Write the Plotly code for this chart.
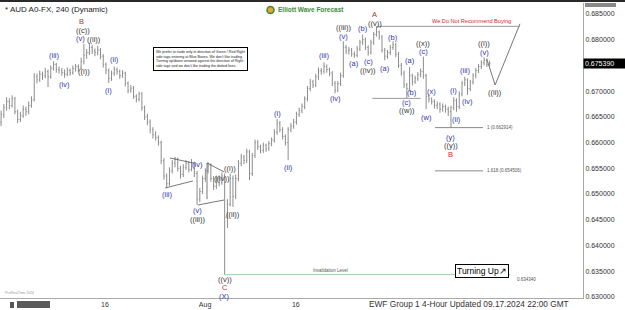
import plotly.graph_objects as go

# ---------------- data (8-hour bars) ----------------
opens = [0.6640,0.6655,0.6668,0.6680,0.6672,0.6685,0.6660,0.6645,0.6652,0.6665,
         0.6660,0.6672,0.6683,0.6728,0.6722,0.6733,0.6730,0.6738,0.6728,0.6745,
         0.6752,0.6742,0.6740,0.6736,0.6733,0.6740,0.6736,0.6744,0.6748,0.6745,
         0.6758,0.6770,0.6775,0.6785,0.6778,0.6775,0.6780,0.6768,0.6752,0.6740,
         0.6725,0.6735,0.6742,0.6738,0.6730,0.6735,0.6715,0.6702,0.6706,0.6690,
         0.6684,0.6695,0.6668,0.6650,0.6640,0.6625,0.6615,0.6610,0.6600,0.6565,
         0.6535,0.6520,0.6545,0.6560,0.6568,0.6550,0.6538,0.6552,0.6560,0.6548,
         0.6560,0.6540,0.6490,0.6505,0.6530,0.6545,0.6555,0.6530,0.6515,0.6530,
         0.6522,0.6535,0.6455,0.6480,0.6530,0.6495,0.6530,0.6560,0.6572,0.6565,
         0.6582,0.6540,0.6575,0.6600,0.6592,0.6585,0.6595,0.6588,0.6598,0.6605,
         0.6620,0.6638,0.6625,0.6612,0.6600,0.6625,0.6632,0.6640,0.6655,0.6662,
         0.6670,0.6685,0.6705,0.6718,0.6712,0.6728,0.6740,0.6738,0.6748,0.6742,
         0.6735,0.6715,0.6702,0.6715,0.6730,0.6785,0.6778,0.6780,0.6772,0.6770,
         0.6782,0.6795,0.6800,0.6785,0.6775,0.6795,0.6810,0.6815,0.6805,0.6780,
         0.6768,0.6775,0.6785,0.6790,0.6772,0.6750,0.6735,0.6712,0.6705,0.6730,
         0.6718,0.6725,0.6732,0.6738,0.6730,0.6690,0.6685,0.6680,0.6672,0.6675,
         0.6665,0.6670,0.6665,0.6660,0.6668,0.6682,0.6670,0.6695,0.6715,0.6722,
         0.6705,0.6718,0.6730,0.6740,0.6748,0.6755,0.6760,0.6752]
highs = [0.6662,0.6675,0.6688,0.6686,0.6692,0.6689,0.6664,0.6660,0.6672,0.6670,
         0.6680,0.6690,0.6735,0.6734,0.6740,0.6738,0.6745,0.6742,0.6750,0.6758,
         0.6755,0.6748,0.6745,0.6742,0.6746,0.6744,0.6750,0.6753,0.6752,0.6765,
         0.6792,0.6782,0.6794,0.6790,0.6783,0.6788,0.6784,0.6772,0.6756,0.6744,
         0.6740,0.6748,0.6746,0.6742,0.6741,0.6738,0.6719,0.6712,0.6710,0.6694,
         0.6699,0.6698,0.6672,0.6656,0.6645,0.6630,0.6622,0.6614,0.6604,0.6570,
         0.6540,0.6552,0.6566,0.6572,0.6571,0.6555,0.6558,0.6566,0.6564,0.6568,
         0.6563,0.6545,0.6512,0.6536,0.6550,0.6562,0.6560,0.6535,0.6536,0.6536,
         0.6542,0.6540,0.6490,0.6540,0.6536,0.6538,0.6566,0.6578,0.6576,0.6588,
         0.6586,0.6580,0.6606,0.6605,0.6596,0.6600,0.6598,0.6603,0.6610,0.6626,
         0.6646,0.6642,0.6630,0.6616,0.6630,0.6638,0.6646,0.6660,0.6668,0.6676,
         0.6690,0.6710,0.6724,0.6722,0.6734,0.6746,0.6745,0.6756,0.6752,0.6746,
         0.6739,0.6720,0.6720,0.6736,0.6797,0.6790,0.6786,0.6784,0.6777,0.6788,
         0.6800,0.6810,0.6804,0.6789,0.6800,0.6815,0.6826,0.6818,0.6809,0.6784,
         0.6780,0.6790,0.6797,0.6794,0.6776,0.6755,0.6740,0.6716,0.6747,0.6734,
         0.6730,0.6737,0.6744,0.6767,0.6734,0.6694,0.6688,0.6684,0.6680,0.6678,
         0.6676,0.6674,0.6670,0.6672,0.6688,0.6686,0.6700,0.6720,0.6728,0.6725,
         0.6722,0.6735,0.6745,0.6753,0.6760,0.6766,0.6764,0.6759]
lows = [0.6632,0.6648,0.6662,0.6665,0.6668,0.6655,0.6638,0.6640,0.6648,0.6652,
        0.6655,0.6668,0.6680,0.6715,0.6718,0.6722,0.6725,0.6708,0.6724,0.6740,
        0.6736,0.6734,0.6730,0.6726,0.6729,0.6730,0.6732,0.6738,0.6738,0.6741,
        0.6752,0.6763,0.6770,0.6772,0.6768,0.6770,0.6762,0.6746,0.6733,0.6716,
        0.6720,0.6730,0.6732,0.6724,0.6726,0.6709,0.6696,0.6697,0.6685,0.6678,
        0.6680,0.6662,0.6644,0.6634,0.6618,0.6608,0.6604,0.6594,0.6558,0.6528,
        0.6512,0.6516,0.6540,0.6552,0.6544,0.6530,0.6533,0.6547,0.6542,0.6544,
        0.6533,0.6479,0.6484,0.6500,0.6524,0.6540,0.6524,0.6508,0.6510,0.6515,
        0.6518,0.63434,0.6434,0.6476,0.6475,0.6490,0.6525,0.6554,0.6558,0.6560,
        0.6527,0.6535,0.6570,0.6586,0.6579,0.6580,0.6582,0.6584,0.6593,0.6600,
        0.6615,0.6620,0.6606,0.6594,0.6566,0.6620,0.6627,0.6635,0.6650,0.6657,
        0.6665,0.6680,0.6700,0.6706,0.6708,0.6722,0.6732,0.6734,0.6736,0.6729,
        0.6710,0.6696,0.6698,0.6710,0.6726,0.6772,0.6771,0.6767,0.6765,0.6766,
        0.6778,0.6790,0.6780,0.6769,0.6771,0.6790,0.6806,0.6800,0.6775,0.6760,
        0.6763,0.6770,0.6780,0.6766,0.6745,0.6730,0.6706,0.6686,0.6700,0.6711,
        0.6714,0.6720,0.6727,0.6724,0.6665,0.6678,0.6674,0.6666,0.6665,0.6658,
        0.6660,0.6658,0.6652,0.6629,0.6663,0.6660,0.6665,0.6690,0.6710,0.6693,
        0.6700,0.6713,0.6725,0.6735,0.6743,0.6750,0.6747,0.6748]
closes = [0.6655,0.6668,0.6680,0.6672,0.6685,0.6660,0.6645,0.6652,0.6665,0.6660,
          0.6672,0.6683,0.6728,0.6722,0.6733,0.6730,0.6738,0.6728,0.6745,0.6752,
          0.6742,0.6740,0.6736,0.6733,0.6740,0.6736,0.6744,0.6748,0.6745,0.6758,
          0.6770,0.6775,0.6785,0.6778,0.6775,0.6780,0.6768,0.6752,0.6740,0.6725,
          0.6735,0.6742,0.6738,0.6730,0.6735,0.6715,0.6702,0.6706,0.6690,0.6684,
          0.6695,0.6668,0.6650,0.6640,0.6625,0.6615,0.6610,0.6600,0.6565,0.6535,
          0.6520,0.6545,0.6560,0.6568,0.6550,0.6538,0.6552,0.6560,0.6548,0.6560,
          0.6540,0.6490,0.6505,0.6530,0.6545,0.6555,0.6530,0.6515,0.6530,0.6522,
          0.6535,0.6455,0.6480,0.6530,0.6495,0.6530,0.6560,0.6572,0.6565,0.6582,
          0.6540,0.6575,0.6600,0.6592,0.6585,0.6595,0.6588,0.6598,0.6605,0.6620,
          0.6638,0.6625,0.6612,0.6600,0.6625,0.6632,0.6640,0.6655,0.6662,0.6670,
          0.6685,0.6705,0.6718,0.6712,0.6728,0.6740,0.6738,0.6748,0.6742,0.6735,
          0.6715,0.6702,0.6715,0.6730,0.6785,0.6778,0.6780,0.6772,0.6770,0.6782,
          0.6795,0.6800,0.6785,0.6775,0.6795,0.6810,0.6815,0.6805,0.6780,0.6768,
          0.6775,0.6785,0.6790,0.6772,0.6750,0.6735,0.6712,0.6705,0.6730,0.6718,
          0.6725,0.6732,0.6738,0.6730,0.6690,0.6685,0.6680,0.6672,0.6675,0.6665,
          0.6670,0.6665,0.6660,0.6668,0.6682,0.6670,0.6695,0.6715,0.6722,0.6705,
          0.6718,0.6730,0.6740,0.6748,0.6755,0.6760,0.6752,0.67539]
bar_index = list(range(len(closes)))

x_tick_vals = [37.6, 73.9, 106.8]
x_tick_text = ["16", "Aug", "16"]
y_tick_vals = [0.630, 0.635, 0.640, 0.645, 0.650, 0.655, 0.660, 0.665, 0.670, 0.680, 0.685]
y_tick_text = ["%.6f" % v for v in y_tick_vals]

last_price = 0.675390
invalidation_level = 0.634340
fib_levels = [0.662914, 0.654506]
fib_ratios = ["1", "1.618"]
fib_span = [157.2, 174.6]
invalid_span = [81, 184.4]
a_level_bar = 136
a_level_end = 188
w_level_bar = 147
w_level_span = [134.5, 152]

# projected path (gray)
proj_x = [176, 179, 188]
proj_y = [0.6762, 0.6712, 0.6831]

# hand-drawn triangles / wedges
tri_x = [[59.4, 69.5], [61.2, 69.5], [74.6, 80.8], [71.3, 80.8], [74.6, 74.6]]
tri_y = [[0.65118, 0.65254], [0.65701, 0.65604], [0.65604, 0.65429],
         [0.64787, 0.64884], [0.65604, 0.64900]]

# wave labels: (bar, text, colour, anchor high/low, vertical shift px, horizontal shift px)
wave_labels = [
    (19, "(iii)", "b", "h", 6, 0), (23, "(iv)", "b", "l", -7, 0),
    (30, "((i))", "k", "l", -7, 0), (30, "(v)", "b", "h", 5, -3),
    (30, "((c))", "k", "h", 13, -1), (30, "B", "r", "h", 22, -2),
    (33, "((ii))", "k", "h", 5, 2), (39, "(i)", "b", "l", -8, 0),
    (41, "(ii)", "b", "h", 7, 0), (60, "(iii)", "b", "l", -7, 0),
    (71, "(iv)", "b", "h", 6, 0), (71, "(v)", "b", "l", -6, 0),
    (71, "((iii))", "k", "l", -14.5, 0), (80, "((iv))", "k", "h", -6.5, 0),
    (81, "((v))", "k", "l", -4.5, 0), (81, "C", "r", "l", -13, 0),
    (81, "(X)", "b", "l", -21.5, 0), (83, "((i))", "k", "h", 4.5, 0),
    (84, "((ii))", "k", "l", -8, 0), (100, "(i)", "b", "h", 5, 0),
    (104, "(ii)", "b", "l", -7, 0), (117, "(iii)", "b", "h", 7, 0),
    (121, "(iv)", "b", "l", -5.5, 0), (124, "((iii))", "k", "h", 14, 0),
    (124, "(v)", "b", "h", 5, 0), (128, "(a)", "b", "l", -6, 0),
    (131, "(b)", "b", "h", 6, 0), (133, "(c)", "b", "l", -6, 0),
    (133, "((iv))", "k", "l", -14.5, 0), (136, "((v))", "k", "h", 3, -1),
    (136, "A", "r", "h", 11.5, -2), (139, "(a)", "b", "l", -8.5, 0),
    (142, "(b)", "b", "h", 4, 0), (147, "(c)", "b", "l", -4.5, 0),
    (147, "((w))", "k", "l", -12.5, 0), (148, "(a)", "b", "h", 6, 0),
    (149, "(b)", "b", "l", -7, 0), (153, "((x))", "k", "h", 13.5, 0),
    (153, "(c)", "b", "h", 5, 0), (154, "(w)", "b", "l", -8.5, 0),
    (156, "(x)", "b", "h", 5.5, 0), (163, "(y)", "b", "l", -9.5, 0),
    (163, "((y))", "k", "l", -18, 0), (163, "B", "r", "l", -27, 0),
    (164, "(i)", "b", "h", 7, 0), (165, "(ii)", "b", "l", -8, 0),
    (168, "(iii)", "b", "h", 6, 0), (169, "(iv)", "b", "l", -7, 0),
    (175, "((i))", "k", "h", 13.5, 0), (175, "(v)", "b", "h", 5, 0),
]
label_colors = {"b": "#3333b0", "k": "#333333", "r": "#cc2a2a"}

# ---------------- figure ----------------
FONT = "Liberation Sans, Arial, sans-serif"
W, H = 625, 310
ML, MR, MT, MB = 0, 42, 3, 12
PW, PH = W - ML - MR, H - MT - MB


def px(xp):
    return (xp - ML) / PW


def py(yp):
    return (H - MB - yp) / PH


fig = go.Figure()
fig.add_trace(go.Ohlc(
    x=bar_index, open=opens, high=highs, low=lows, close=closes,
    increasing=dict(line=dict(color="#8c8c8c", width=1)),
    decreasing=dict(line=dict(color="#8c8c8c", width=1)),
    tickwidth=0.3, hoverinfo="skip", showlegend=False))

fig.add_trace(go.Scatter(x=proj_x, y=proj_y, mode="lines",
                         line=dict(color="#777777", width=1),
                         hoverinfo="skip", showlegend=False))

for tx, ty in zip(tri_x, tri_y):
    fig.add_trace(go.Scatter(x=tx, y=ty, mode="lines",
                             line=dict(color="#555555", width=0.8),
                             hoverinfo="skip", showlegend=False))

shapes = []
shapes.append(dict(type="line", xref="x", yref="y", x0=a_level_bar, x1=a_level_end,
                   y0=highs[a_level_bar], y1=highs[a_level_bar],
                   line=dict(color="#999999", width=1)))
shapes.append(dict(type="line", xref="x", yref="y", x0=w_level_span[0], x1=w_level_span[1],
                   y0=lows[w_level_bar], y1=lows[w_level_bar],
                   line=dict(color="#999999", width=1)))
for lv in fib_levels:
    shapes.append(dict(type="line", xref="x", yref="y", x0=fib_span[0], x1=fib_span[1],
                       y0=lv, y1=lv, line=dict(color="#888888", width=1)))
shapes.append(dict(type="line", xref="x", yref="y", x0=invalid_span[0], x1=invalid_span[1],
                   y0=invalidation_level, y1=invalidation_level,
                   line=dict(color="#9fd49f", width=1)))
shapes.append(dict(type="rect", xref="paper", yref="paper", x0=px(0), x1=px(W),
                   y0=py(2), y1=py(0), line=dict(width=0), fillcolor="#2a2a2a"))
shapes.append(dict(type="rect", xref="paper", yref="paper", x0=px(585), x1=px(616),
                   y0=py(7), y1=py(3), line=dict(width=0), fillcolor="#8a8a8a"))
shapes.append(dict(type="rect", xref="paper", yref="paper", x0=px(10), x1=px(14),
                   y0=py(308), y1=py(302), line=dict(width=0), fillcolor="#555555"))
shapes.append(dict(type="rect", xref="paper", yref="paper", x0=px(17), x1=px(50),
                   y0=py(308), y1=py(301), line=dict(width=0), fillcolor="#5a5a5a"))
shapes.append(dict(type="circle", xref="paper", yref="paper", x0=px(267), x1=px(274),
                   y0=py(13.5), y1=py(6.5), line=dict(color="#3c8c3c", width=1.5),
                   fillcolor="#f0a030"))

ann = []
for b, txt, c, anc, dy, dx in wave_labels:
    yv = highs[b] if anc == "h" else lows[b]
    ann.append(dict(x=b, y=yv, xref="x", yref="y", text=txt, showarrow=False,
                    xanchor="center", yanchor="middle", yshift=dy, xshift=dx,
                    font=dict(family=FONT, size=7.5, color=label_colors[c])))
ann.append(dict(x=proj_x[1], y=proj_y[1], xref="x", yref="y", text="((ii))",
                showarrow=False, xanchor="center", yanchor="middle", yshift=-8,
                font=dict(family=FONT, size=7.5, color=label_colors["k"])))

for lv, r in zip(fib_levels, fib_ratios):
    ann.append(dict(x=fib_span[1] + 0.6, y=lv, xref="x", yref="y", xanchor="left",
                    yanchor="middle", text="%s (%.6f)" % (r, lv), showarrow=False,
                    font=dict(family=FONT, size=4.5, color="#555555")))
ann.append(dict(x=119.2, y=invalidation_level, xref="x", yref="y", yshift=4,
                xanchor="center", yanchor="middle",
                text="Invalidation Level", showarrow=False,
                font=dict(family=FONT, size=4.5, color="#555555")))
ann.append(dict(x=186.2, y=invalidation_level, xref="x", yref="y", xanchor="left",
                yanchor="middle", yshift=-5, text="%.6f" % invalidation_level,
                showarrow=False, font=dict(family=FONT, size=4.5, color="#555555")))


def paper_text(x, y, text, size, color, xanchor="center", **kw):
    d = dict(x=px(x), y=py(y), xref="paper", yref="paper", text=text,
             showarrow=False, xanchor=xanchor, yanchor="middle",
             font=dict(family=FONT, size=size, color=color))
    d.update(kw)
    ann.append(d)


paper_text(471.5, 21, "We Do Not Recommend Buying", 5.6, "#cc2a2a")
paper_text(481.5, 270.5, "Turning Up↗", 8.5, "black", bgcolor="white",
           bordercolor="black", borderwidth=1, borderpad=1)
note = ("We prefer to trade only in direction of Green / Red Right<br>"
        "side tags entering at Blue Boxes. We don't like trading<br>"
        "Turning up/down arrowed against the direction of Right<br>"
        "side tags and we don't like trading the dotted lines.")
paper_text(200, 59.5, note, 3.6, "#222222", align="left", bgcolor="white",
           bordercolor="black", borderwidth=1, borderpad=2)
paper_text(3, 10, "* AUD A0-FX, 240 (Dynamic)", 8, "#222222", xanchor="left")
paper_text(275.5, 10, "<b>Elliott Wave Forecast</b>", 6.5, "#3c8c3c", xanchor="left")
paper_text(571, 303.5, "EWF Group 1 4-Hour Updated 09.17.2024 22:00 GMT", 8.3,
           "#333333", xanchor="right")
paper_text(3, 293, "ProRealTime 2024", 3.5, "#999999", xanchor="left")

ann.append(dict(x=1.0, y=last_price, xref="paper", yref="y", xanchor="left",
                yanchor="middle", text="%.6f" % last_price, showarrow=False,
                bgcolor="black", borderpad=1, width=40, align="left",
                font=dict(family=FONT, size=7, color="white")))

fig.update_layout(
    width=W, height=H, margin=dict(l=ML, r=MR, t=MT, b=MB, pad=0),
    paper_bgcolor="white", plot_bgcolor="white",
    shapes=shapes, annotations=ann, showlegend=False,
    xaxis=dict(range=[-0.4, PW / 2.76 - 0.4], showgrid=False, zeroline=False,
               rangeslider=dict(visible=False), tickmode="array",
               tickvals=x_tick_vals, ticktext=x_tick_text, ticks="",
               tickfont=dict(family=FONT, size=7, color="#333333"),
               showline=True, linecolor="#aaaaaa", linewidth=1),
    yaxis=dict(range=[0.62979, 0.68714], side="right", showgrid=False, zeroline=False,
               tickmode="array", tickvals=y_tick_vals, ticktext=y_tick_text, ticks="",
               tickfont=dict(family=FONT, size=7, color="#333333"),
               showline=True, linecolor="#aaaaaa", linewidth=1),
)

fig.write_html("out.html")
